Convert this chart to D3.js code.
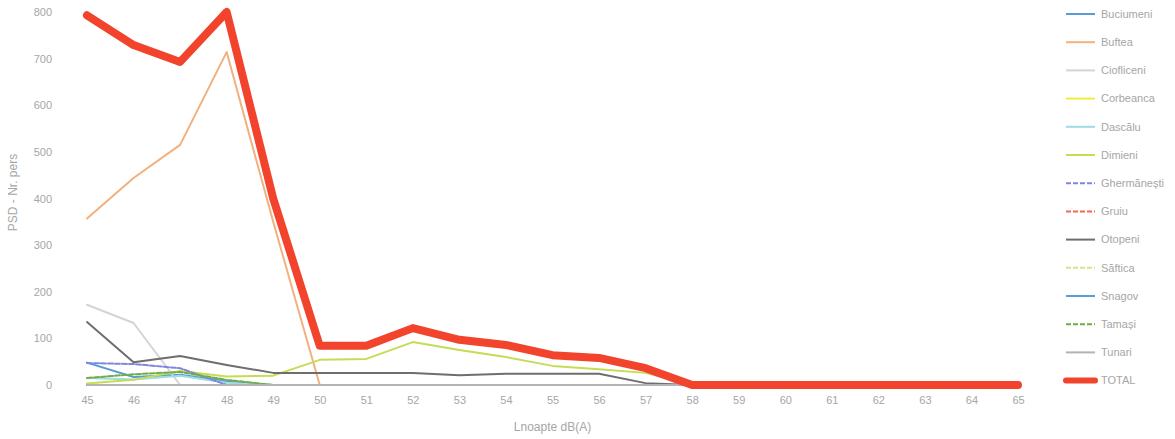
<!DOCTYPE html>
<html>
<head>
<meta charset="utf-8">
<script src="https://cdn.jsdelivr.net/npm/d3@7"></script>
<style>
  html, body { margin: 0; padding: 0; background: #ffffff; }
  svg { display: block; }
  text { font-family: "Liberation Sans", "DejaVu Sans", sans-serif; }
</style>
</head>
<body>
<svg id="chart" width="1175" height="439"></svg>
<script>
// Noise exposure classes (Lnoapte, dB(A))
const categories = [45, 46, 47, 48, 49, 50, 51, 52, 53, 54, 55, 56, 57, 58, 59, 60, 61, 62, 63, 64, 65];
const yTicks = [0, 100, 200, 300, 400, 500, 600, 700, 800];

// Persons exposed per locality
const buciumeni   = [48, 17, 22, 8, 0, 0, 0, 0, 0, 0, 0, 0, 0, 0, 0, 0, 0, 0, 0, 0, 0];
const buftea      = [357, 444, 515, 714, 350, 0, 0, 0, 0, 0, 0, 0, 0, 0, 0, 0, 0, 0, 0, 0, 0];
const ciofliceni  = [172, 133, 0, 0, 0, 0, 0, 0, 0, 0, 0, 0, 0, 0, 0, 0, 0, 0, 0, 0, 0];
const corbeanca   = [0, 0, 0, 0, 0, 0, 0, 0, 0, 0, 0, 0, 0, 0, 0, 0, 0, 0, 0, 0, 0];
const dascalu     = [15, 12, 20, 5, 0, 0, 0, 0, 0, 0, 0, 0, 0, 0, 0, 0, 0, 0, 0, 0, 0];
const dimieni     = [3, 11, 30, 18, 20, 54, 56, 92, 75, 60, 41, 34, 26, 0, 0, 0, 0, 0, 0, 0, 0];
const ghermanesti = [47, 45, 36, 0, 0, 0, 0, 0, 0, 0, 0, 0, 0, 0, 0, 0, 0, 0, 0, 0, 0];
const gruiu       = [0, 0, 0, 0, 0, 0, 0, 0, 0, 0, 0, 0, 0, 0, 0, 0, 0, 0, 0, 0, 0];
const otopeni     = [135, 49, 62, 43, 26, 26, 26, 26, 21, 24, 24, 24, 4, 0, 0, 0, 0, 0, 0, 0, 0];
const saftica     = [0, 0, 0, 0, 0, 0, 0, 0, 0, 0, 0, 0, 0, 0, 0, 0, 0, 0, 0, 0, 0];
const snagov      = [0, 0, 0, 0, 0, 0, 0, 0, 0, 0, 0, 0, 0, 0, 0, 0, 0, 0, 0, 0, 0];
const tamasi      = [15, 23, 28, 11, 0, 0, 0, 0, 0, 0, 0, 0, 0, 0, 0, 0, 0, 0, 0, 0, 0];
const tunari      = [0, 0, 0, 0, 0, 0, 0, 0, 0, 0, 0, 0, 0, 0, 0, 0, 0, 0, 0, 0, 0];
const total       = [793, 729, 693, 800, 400, 84, 84, 122, 97, 86, 64, 58, 36, 0, 0, 0, 0, 0, 0, 0, 0];

const series = [
  { name: "Buciumeni",   values: buciumeni,   color: "#5b9bd5", width: 2, dash: null },
  { name: "Buftea",      values: buftea,      color: "#f2b07e", width: 2, dash: null },
  { name: "Ciofliceni",  values: ciofliceni,  color: "#d4d4d4", width: 2, dash: null },
  { name: "Corbeanca",   values: corbeanca,   color: "#ecf03c", width: 2, dash: null },
  { name: "Dascălu",     values: dascalu,     color: "#9fdbe3", width: 2, dash: null },
  { name: "Dimieni",     values: dimieni,     color: "#c5dc55", width: 2, dash: null },
  { name: "Ghermănești", values: ghermanesti, color: "#7f86e0", width: 2, dash: "5,2" },
  { name: "Gruiu",       values: gruiu,       color: "#f06a4c", width: 2, dash: "5,2" },
  { name: "Otopeni",     values: otopeni,     color: "#6e6e6e", width: 2, dash: null },
  { name: "Săftica",     values: saftica,     color: "#d3e58a", width: 2, dash: "5,2" },
  { name: "Snagov",      values: snagov,      color: "#5d9bd3", width: 2, dash: null },
  { name: "Tamași",      values: tamasi,      color: "#70ad47", width: 2, dash: "5,2" },
  { name: "Tunari",      values: tunari,      color: "#b3b3b3", width: 2, dash: null },
  { name: "TOTAL",       values: total,       color: "#f2432c", width: 8, dash: null }
];

const svg = d3.select("#chart");
const plot = { left: 87, right: 1018, top: 12, bottom: 385 };

const x = d3.scalePoint().domain(categories).range([plot.left, plot.right]);
const y = d3.scaleLinear().domain([0, 800]).range([plot.bottom, plot.top]);

const labelColor = "#a6a6a6";

// Y axis: labels only
const yAxis = svg.append("g")
  .attr("transform", `translate(${plot.left - 35},0)`)
  .call(d3.axisLeft(y).tickValues(yTicks).tickSize(0).tickPadding(0));
yAxis.select(".domain").remove();
yAxis.selectAll("text")
  .attr("fill", labelColor)
  .style("font-size", "11px")
  .style("font-family", "'Liberation Sans', sans-serif");

// X axis: labels only
const xAxis = svg.append("g")
  .attr("transform", `translate(0,${plot.bottom + 11})`)
  .call(d3.axisBottom(x).tickSize(0).tickPadding(0));
xAxis.select(".domain").remove();
xAxis.selectAll("text")
  .attr("fill", labelColor)
  .style("font-size", "11px")
  .style("font-family", "'Liberation Sans', sans-serif");

// Axis titles
svg.append("text")
  .attr("x", (plot.left + plot.right) / 2)
  .attr("y", 431)
  .attr("text-anchor", "middle")
  .attr("fill", labelColor)
  .style("font-size", "12px")
  .text("Lnoapte dB(A)");

svg.append("text")
  .attr("transform", `translate(17,${(plot.top + plot.bottom) / 2 - 6}) rotate(-90)`)
  .attr("text-anchor", "middle")
  .attr("fill", labelColor)
  .style("font-size", "12px")
  .text("PSD - Nr. pers");

// Series lines
const line = d3.line()
  .x((d, i) => x(categories[i]))
  .y(d => y(d))
  .curve(d3.curveLinear);

svg.append("g")
  .selectAll("path")
  .data(series)
  .join("path")
  .attr("d", s => line(s.values))
  .attr("fill", "none")
  .attr("stroke", s => s.color)
  .attr("stroke-width", s => s.width)
  .attr("stroke-dasharray", s => s.dash)
  .attr("stroke-linejoin", "round")
  .attr("stroke-linecap", "round");

// Legend
const legend = svg.append("g").attr("transform", "translate(1066,14)");
const rowH = 28.2;
const rows = legend.selectAll("g")
  .data(series)
  .join("g")
  .attr("transform", (s, i) => `translate(0,${i * rowH})`);

rows.append("line")
  .attr("x1", 0).attr("x2", 29)
  .attr("y1", 0).attr("y2", 0)
  .attr("stroke", s => s.color)
  .attr("stroke-width", s => s.name === "TOTAL" ? 6 : 2)
  .attr("stroke-dasharray", s => s.dash)
  .attr("stroke-linecap", s => s.name === "TOTAL" ? "round" : "butt");

rows.append("text")
  .attr("x", 35)
  .attr("y", 0)
  .attr("dy", "0.35em")
  .attr("fill", labelColor)
  .style("font-size", "11px")
  .text(s => s.name);
</script>
</body>
</html>
